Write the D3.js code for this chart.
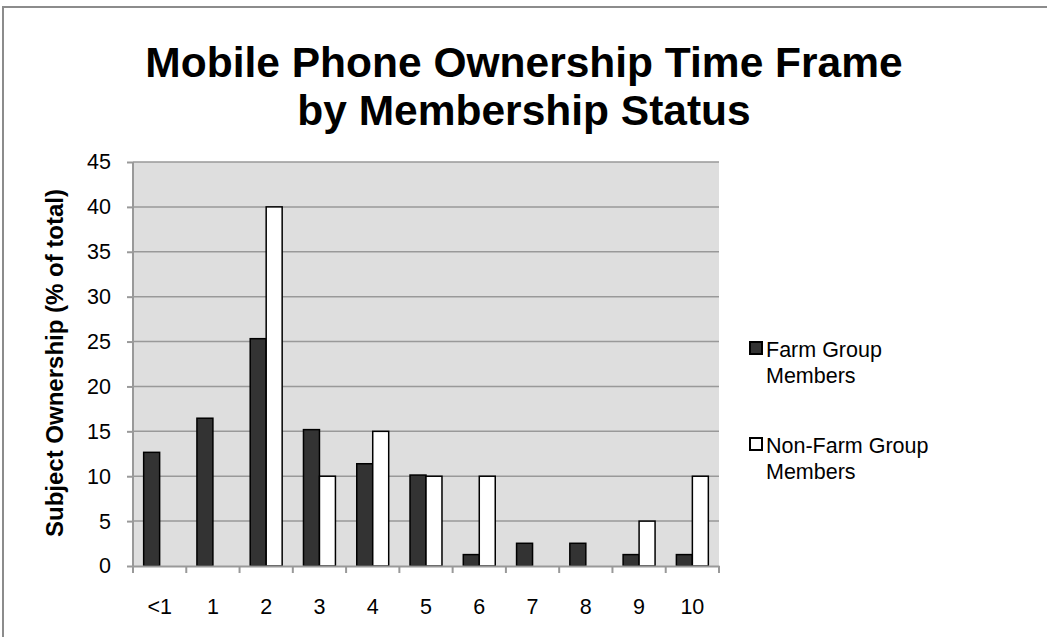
<!DOCTYPE html>
<html><head><meta charset="utf-8">
<script src="https://cdn.jsdelivr.net/npm/d3@7"></script>
<style>body{margin:0;background:#fff}svg{display:block}text{font-family:"Liberation Sans",Arial,sans-serif}</style>
</head><body><svg id="c" width="1047" height="637"></svg>
<script>
const categories = ["<1","1","2","3","4","5","6","7","8","9","10"];
const farmGroup = [12.66,16.46,25.32,15.19,11.39,10.13,1.27,2.53,2.53,1.27,1.27];
const nonFarmGroup = [0,0,40,10,15,10,10,0,0,5,10];
const seriesNames = ["Farm Group Members","Non-Farm Group Members"];
const yTicks = [0,5,10,15,20,25,30,35,40,45];

const FONT = "'Liberation Sans',Arial,sans-serif";
const svg = d3.select("#c");
// outer frame
svg.append("rect").attr("x",3).attr("y",7).attr("width",1100).attr("height",700)
  .attr("fill","none").attr("stroke","#8c8c8c").attr("stroke-width",2);

const L=133,R=719,T=162,B=566;
const x = d3.scaleBand().domain(categories).range([L,R]);
const y = d3.scaleLinear().domain([0,45]).range([B,T]);
const xs = d3.scaleBand().domain(seriesNames).range([0,x.bandwidth()]).paddingOuter(0.667).paddingInner(0);

svg.append("rect").attr("x",L).attr("y",T).attr("width",R-L).attr("height",B-T).attr("fill","#dedede");
// gridlines
svg.append("g").selectAll("line").data(yTicks.filter(d=>d>0)).join("line")
  .attr("x1",L).attr("x2",R).attr("y1",d=>y(d)).attr("y2",d=>y(d))
  .attr("stroke","#999").attr("stroke-width",1.5);

const data = categories.map((c,i)=>({c, vals:[farmGroup[i],nonFarmGroup[i]]}));
const fills = ["#333333","#ffffff"];
const g = svg.append("g").selectAll("g").data(data).join("g").attr("transform",d=>`translate(${x(d.c)},0)`);
g.selectAll("rect").data(d=>d.vals.map((v,k)=>({v,k}))).join("rect")
  .filter(d=>d.v>0)
  .attr("x",d=>xs(seriesNames[d.k])).attr("width",xs.bandwidth())
  .attr("y",d=>y(d.v)).attr("height",d=>B-y(d.v))
  .attr("fill",d=>fills[d.k]).attr("stroke","#000").attr("stroke-width",1.5);

// y axis
const ya = svg.append("g").attr("transform",`translate(${L},0)`)
  .call(d3.axisLeft(y).tickValues(yTicks).tickSize(6).tickPadding(16));
ya.select(".domain").attr("stroke","#999").attr("stroke-width",2).attr("d",`M0,${T}V${B}`);
ya.selectAll(".tick line").attr("stroke","#999").attr("stroke-width",2);
ya.selectAll("text").attr("font-size",21.5).attr("fill","#000").style("font-family",FONT);

// x axis
const xa = svg.append("g").attr("transform",`translate(0,${B})`)
  .call(d3.axisBottom(x).tickSize(0).tickPadding(33));
xa.select(".domain").attr("stroke","#999").attr("stroke-width",2);
xa.selectAll("text").attr("font-size",21.5).attr("fill","#000").style("font-family",FONT);
// category boundary ticks
svg.append("g").selectAll("line").data(categories.concat(["end"])).join("line")
  .attr("x1",(d,i)=>L+i*x.step()).attr("x2",(d,i)=>L+i*x.step())
  .attr("y1",B).attr("y2",B+7).attr("stroke","#999").attr("stroke-width",2);

// title
svg.append("text").attr("x",524).attr("y",77).attr("text-anchor","middle")
  .attr("font-size",42.5).attr("font-weight","bold").text("Mobile Phone Ownership Time Frame");
svg.append("text").attr("x",524).attr("y",125).attr("text-anchor","middle")
  .attr("font-size",42.5).attr("font-weight","bold").text("by Membership Status");

// y label
svg.append("text").attr("transform",`translate(63,363) rotate(-90)`).attr("text-anchor","middle")
  .attr("font-size",24).attr("font-weight","bold").text("Subject Ownership (% of total)");

// legend
const legY = [357,453];
const leg = svg.append("g").selectAll("g").data(seriesNames).join("g")
  .attr("transform",(d,i)=>`translate(750,${legY[i]})`);
leg.append("rect").attr("x",0).attr("y",-15).attr("width",12).attr("height",12)
  .attr("fill",(d,i)=>fills[i]).attr("stroke","#000").attr("stroke-width",2);
leg.append("text").attr("x",16).attr("y",0).attr("font-size",21.5)
  .selectAll("tspan").data(d=>{const w=d.split(" ");return [w.slice(0,-1).join(" "),w[w.length-1]];}).join("tspan")
  .attr("x",16).attr("dy",(d,i)=>i?26:0).text(d=>d);
</script></body></html>
